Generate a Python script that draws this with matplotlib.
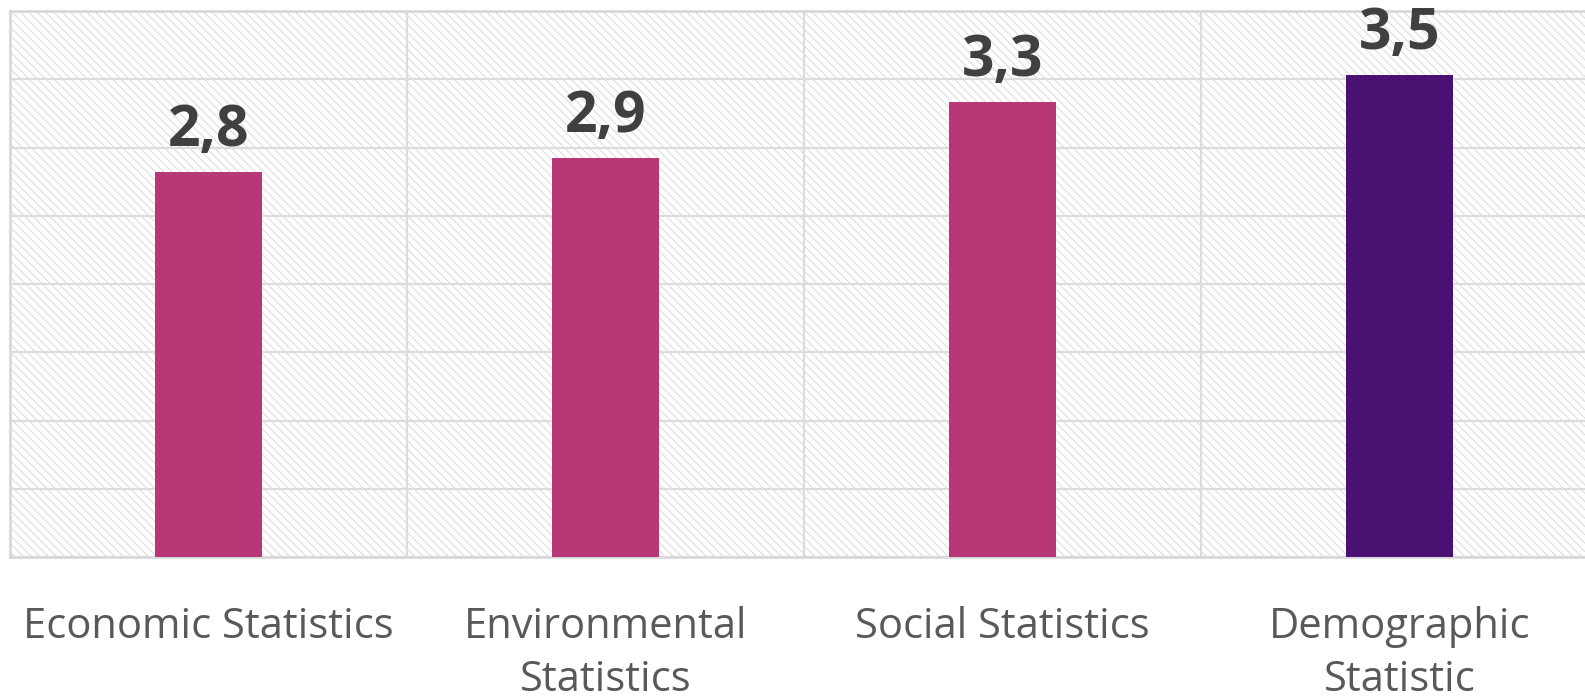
# ==========================================
# IMPORTAR LIBRERÍAS
# ==========================================

import matplotlib
matplotlib.use("Agg")
import matplotlib.pyplot as plt
from matplotlib.patches import Rectangle

# ==========================================
# DATOS
# ==========================================

categorias = ["Economic Statistics", "Environmental\nStatistics",
              "Social Statistics", "Demographic\nStatistic"]
valores = [2.82, 2.92, 3.33, 3.53]
colores = ["#B83776", "#B83776", "#B83776", "#4A1173"]

# ==========================================
# CONFIGURAR FIGURA
# ==========================================

plt.rcParams["font.family"] = ["Open Sans", "DejaVu Sans"]
plt.rcParams["hatch.linewidth"] = 0.7

fig = plt.figure(figsize=(15.85, 6.98), dpi=100)
ax = fig.add_axes([10 / 1585, 141 / 698, 1588 / 1585, 546 / 698])

# fondo rayado
fondo = Rectangle((0, 0), 1, 1, transform=ax.transAxes, facecolor="white",
                  edgecolor="#dadada", hatch="\\" * 4, linewidth=0, zorder=0)
ax.add_patch(fondo)

x = list(range(len(categorias)))
ax.bar(x, valores, width=0.27, color=colores, zorder=3)

for xi, v in zip(x, valores):
    t = f"{v:.1f}".replace(".", ",")
    ax.annotate(t, (xi, v), xytext=(0, 19), textcoords="offset points",
                ha="center", va="baseline", fontsize=41, fontweight="bold",
                color="#404040", zorder=5)

ax.set_xlim(-0.5, 3.5)
ax.set_ylim(0, 4)

# ==========================================
# GRID
# ==========================================

ax.set_yticks([i * 0.5 for i in range(9)])
ax.set_xticks([0.5, 1.5, 2.5], minor=True)
ax.grid(True, axis="y", which="major", color="#dcdcdc", linewidth=1.6, zorder=1)
ax.grid(True, axis="x", which="minor", color="#dcdcdc", linewidth=1.6, zorder=1)
ax.set_axisbelow(True)

ax.set_xticks(x)
ax.set_xticklabels(categorias, fontsize=30, color="#595959", linespacing=1.35)
ax.tick_params(axis="x", which="both", length=0, pad=35)
ax.tick_params(axis="y", which="both", length=0, labelleft=False)

for lado in ["top", "left", "bottom", "right"]:
    ax.spines[lado].set_color("#d9d9d9")
    ax.spines[lado].set_linewidth(2)

# ==========================================
# GUARDAR IMAGEN
# ==========================================

fig.savefig("out.png", dpi=100)
